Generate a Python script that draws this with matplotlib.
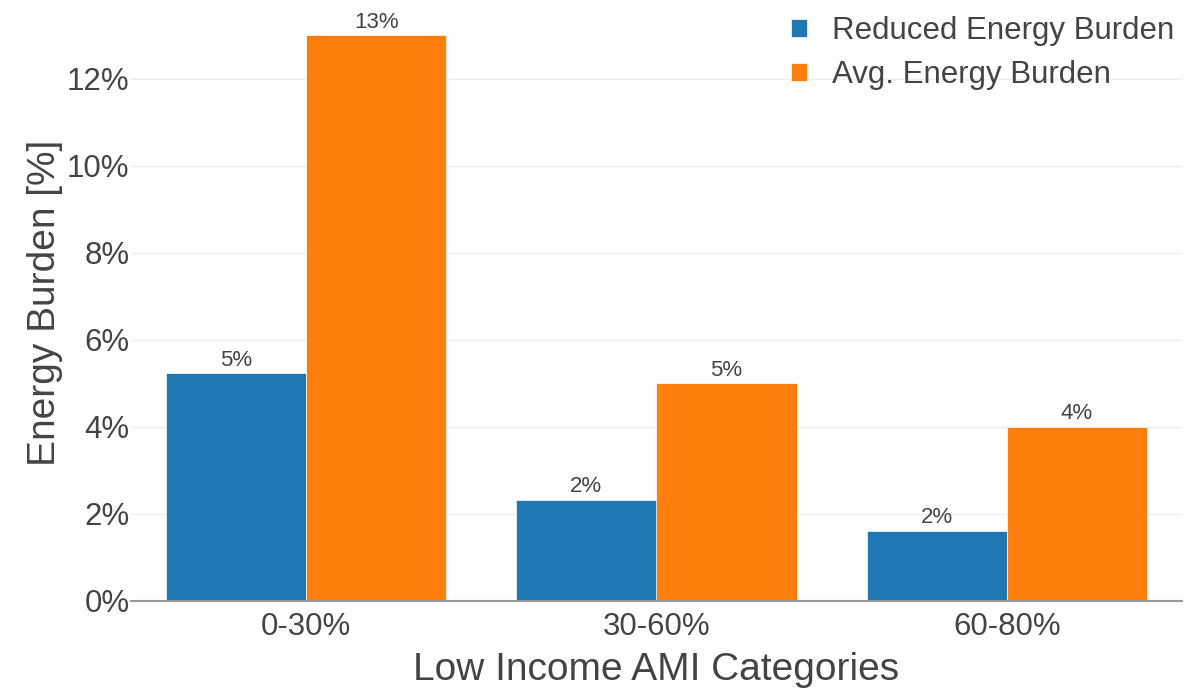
import matplotlib.pyplot as plt
import numpy as np

plt.rcParams['font.family'] = ['Liberation Sans', 'DejaVu Sans']

categories = ['0-30%', '30-60%', '60-80%']
reduced = [5.23, 2.33, 1.62]
average = [13.0, 5.0, 4.0]
series_names = ['Reduced Energy Burden', 'Avg. Energy Burden']
colors = ['#1f77b4', '#ff7f0e']
yticks = [0, 2, 4, 6, 8, 10, 12]

txt = '#444444'

fig = plt.figure(figsize=(11.92, 6.92), dpi=100)
ax = fig.add_axes([131/1192, 1-601/692, 1051/1192, 596/692])

x = np.arange(len(categories))
w = 0.4
for k, (vals, name, c) in enumerate(zip([reduced, average], series_names, colors)):
    pos = x + (k - 0.5) * w
    ax.bar(pos, vals, width=w, color=c, label=name, zorder=2,
           edgecolor='white', linewidth=0.5)
    for p, v in zip(pos, vals):
        ax.annotate(f'{v:.0f}%', (p, v), xytext=(0, 2), textcoords='offset points',
                    ha='center', va='bottom', fontsize=16, color=txt)

ax.set_xlim(-0.5, 2.5)
ax.set_ylim(0, 13.7)
ax.set_yticks(yticks)
ax.set_yticklabels([f'{t}%' for t in yticks])
ax.set_xticks(x)
ax.set_xticklabels(categories)
ax.tick_params(axis='both', length=0, labelsize=22.5, colors=txt)
ax.tick_params(axis='y', pad=1)
ax.tick_params(axis='x', pad=8)
ax.grid(axis='y', color='#eeeeee', linewidth=1, zorder=0)
for s in ['top', 'right', 'left']:
    ax.spines[s].set_visible(False)
ax.spines['bottom'].set_color('#999999')
ax.spines['bottom'].set_linewidth(1.5)
ax.spines['bottom'].set_zorder(3)

ax.set_xlabel('Low Income AMI Categories', fontsize=28, color=txt, labelpad=7)
ax.set_ylabel('Energy Burden [%]', fontsize=28, color=txt, labelpad=3)

leg = ax.legend(loc='upper right', bbox_to_anchor=(1.01, 1.013), frameon=False,
                fontsize=22.5, handlelength=0.5, handleheight=0.5,
                handletextpad=0.8, labelspacing=0.45, labelcolor=txt,
                borderaxespad=0.2)

fig.savefig('out.png', dpi=100, facecolor='white')
